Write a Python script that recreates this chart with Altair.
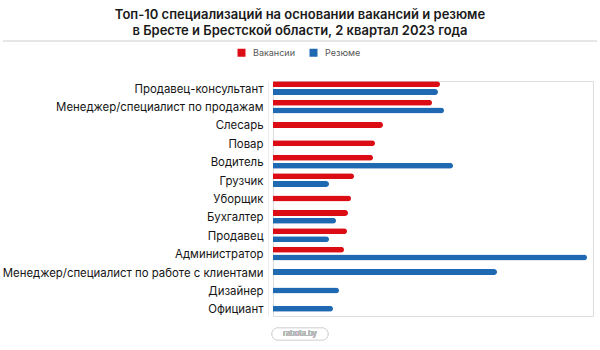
import altair as alt
import pandas as pd

categories = [
    "Продавец-консультант",
    "Менеджер/специалист по продажам",
    "Слесарь",
    "Повар",
    "Водитель",
    "Грузчик",
    "Уборщик",
    "Бухгалтер",
    "Продавец",
    "Администратор",
    "Менеджер/специалист по работе с клиентами",
    "Дизайнер",
    "Официант",
]
vacancies = [167, 159, 110, 102, 100, 81, 78, 75, 74, 71, None, None, None]
resumes = [165, 171, None, None, 180, 56, None, 63, 56, 314, 224, 66, 60]
series_names = ["Вакансии", "Резюме"]
series_colors = ["#dc0c14", "#1f69b3"]

rows = []
for cat, v, r in zip(categories, vacancies, resumes):
    both = v is not None and r is not None
    if v is not None:
        rows.append({"cat": cat, "series": "Вакансии", "value": v,
                     "slot": "Вакансии" if both else "center"})
    if r is not None:
        rows.append({"cat": cat, "series": "Резюме", "value": r,
                     "slot": "Резюме" if both else "center"})
df = pd.DataFrame(rows)

FONT = "Inter"

bars = alt.Chart(df).mark_bar(size=6, cornerRadiusEnd=3).encode(
    y=alt.Y("cat:N", sort=categories,
            scale=alt.Scale(paddingInner=0.36, paddingOuter=0.07),
            axis=alt.Axis(title=None, ticks=False, domainColor="#ececec",
                          labelFontSize=11.4, labelColor="#151515", labelFont=FONT,
                          labelFontWeight=400, labelOffset=1.5,
                          labelPadding=5, offset=5, labelLimit=400)),
    yOffset=alt.YOffset("slot:N",
                        scale=alt.Scale(domain=["Вакансии", "center", "Резюме"],
                                        paddingInner=0, paddingOuter=0)),
    x=alt.X("value:Q", scale=alt.Scale(domain=[0, 320]), axis=None),
    color=alt.Color("series:N",
                    scale=alt.Scale(domain=series_names, range=series_colors),
                    legend=alt.Legend(title=None, orient="none", direction="horizontal",
                                      legendX=-36, legendY=-33, symbolType="square",
                                      symbolSize=64, symbolStrokeWidth=0,
                                      labelFontSize=9, labelColor="#555555",
                                      labelFont=FONT, labelOffset=7, columnPadding=14)),
)

sep = alt.Chart(df).mark_rule(color="#e6e6e6", strokeWidth=1).encode(
    x=alt.value(-270), x2=alt.value(324), y=alt.value(-40)
)

pill = alt.Chart(df).mark_rect(fill="white", stroke="#dddddd", strokeWidth=1,
                               cornerRadius=6).encode(
    x=alt.value(-1), x2=alt.value(55), y=alt.value(247), y2=alt.value(259)
)
wm = alt.Chart(df).mark_text(text="rabota.by", fontSize=7.5, color="#b8b8b8",
                             font=FONT).encode(
    x=alt.value(27), y=alt.value(253)
)

chart = alt.layer(sep, bars, pill, wm).properties(
    width=320, height=235,
    title=alt.TitleParams(
        text=["Топ-10 специализаций на основании вакансий и резюме",
              "в Бресте и Брестской области, 2 квартал 2023 года"],
        anchor="middle", frame="group", dx=-133, fontSize=13, font=FONT,
        fontWeight=600, color="#1a1a1a", lineHeight=16, offset=3),
    autosize=alt.AutoSizeParams(type="none"),
    padding={"left": 273, "top": 81, "right": 7, "bottom": 34},
).configure_view(stroke=None).configure(background="white")

chart.save("out.html", embed_options={"renderer": "svg", "actions": False})
